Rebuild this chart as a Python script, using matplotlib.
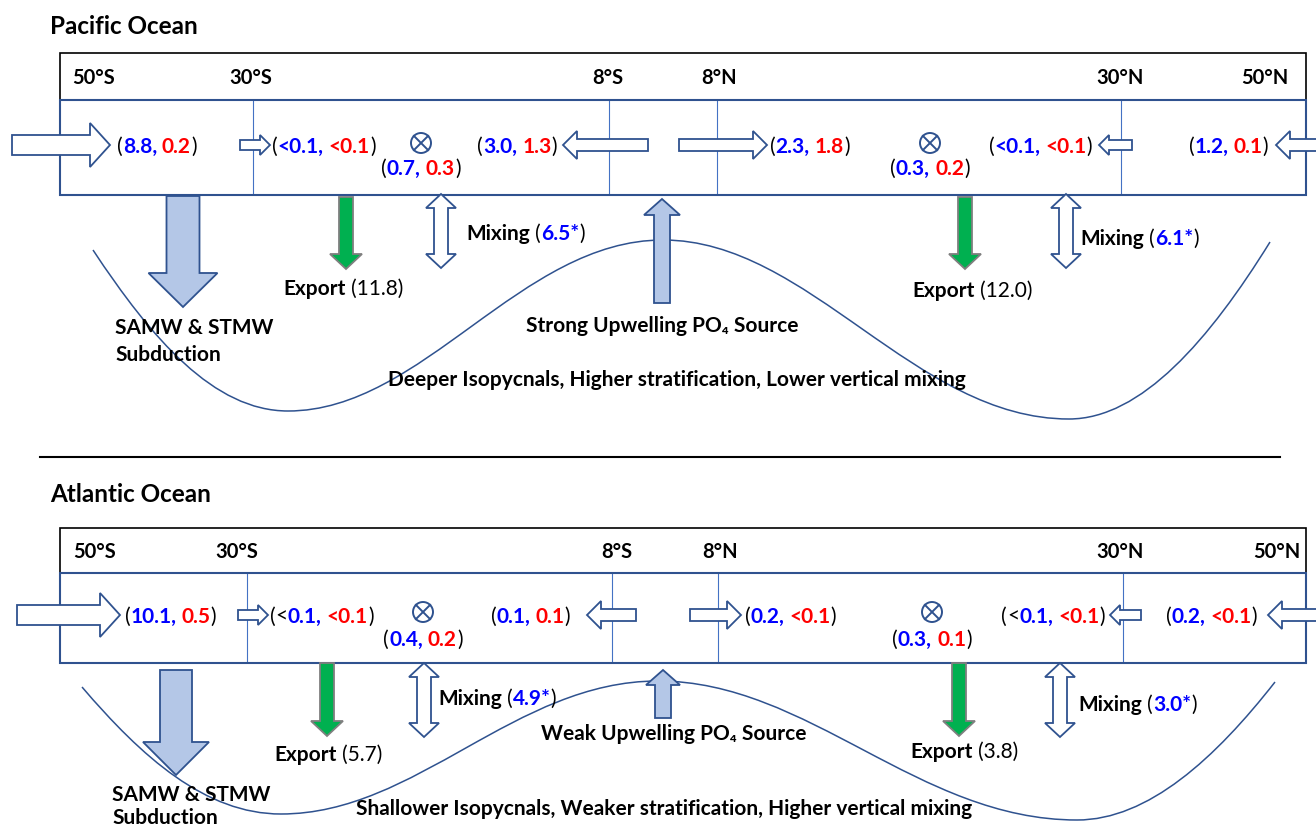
import matplotlib
matplotlib.use('Agg')
import matplotlib.pyplot as plt
from matplotlib.patches import Polygon, Rectangle, PathPatch, Circle
from matplotlib.path import Path
import numpy as np

plt.rcParams['font.family'] = ['Lato', 'DejaVu Sans']

W, H = 1316, 826
BLUE, RED, BLACK = '#0000FF', '#FF0000', '#000000'
EDGE, LINE = '#2F528F', '#4472C4'
LIGHT, GREEN, GREY = '#B4C7E7', '#00B050', '#7F7F7F'

# ---- data ----
LATS = ['50°S', '30°S', '8°S', '8°N', '30°N', '50°N']

# (PO4, DOP) meridional fluxes, west to east along the row
PAC_MERID = [('8.8', '0.2'), ('<0.1', '<0.1'), ('3.0', '1.3'),
             ('2.3', '1.8'), ('<0.1', '<0.1'), ('1.2', '0.1')]
PAC_VERT = [('0.7', '0.3'), ('0.3', '0.2')]
PAC_EXPORT = ['11.8', '12.0']
PAC_MIXING = ['6.5*', '6.1*']
PAC_UPWELL = 'Strong Upwelling PO₄ Source'
PAC_NOTE = 'Deeper Isopycnals, Higher stratification, Lower vertical mixing'

ATL_MERID = [('10.1', '0.5'), ('<0.1', '<0.1'), ('0.1', '0.1'),
             ('0.2', '<0.1'), ('<0.1', '<0.1'), ('0.2', '<0.1')]
ATL_VERT = [('0.4', '0.2'), ('0.3', '0.1')]
ATL_EXPORT = ['5.7', '3.8']
ATL_MIXING = ['4.9*', '3.0*']
ATL_UPWELL = 'Weak Upwelling PO₄ Source'
ATL_NOTE = 'Shallower Isopycnals, Weaker stratification, Higher vertical mixing'

# ---- layout (pixels) ----
ARROW_SIZES = {'big': (20, 44, 20), 'mid': (12, 28, 14), 'small': (10, 20, 10)}
FS_TITLE, FS_LAT, FS_FLUX, FS_BODY = 17.5, 14.5, 15, 15

PAC_LAYOUT = dict(
    title='Pacific Ocean', title_y=25, head=(53, 100), box=(100, 195),
    lat_x=[94, 251, 608, 719, 1120, 1265], bound_x=[253, 609, 717, 1121],
    row_y=145,
    harrows=[(12, 110, 'big'), (240, 270, 'small'), (648, 563, 'mid'),
             (679, 767, 'mid'), (1132, 1099, 'small'), (1345, 1276, 'mid')],
    flux_x=[117, 272, 557, 770, 1092, 1268],
    flux_ha=['left', 'left', 'right', 'left', 'right', 'right'],
    lt_black=False,
    otimes_x=[421, 930], otimes_y=143, vert_y=167,
    samw=(183, 196, 307, 33, 69, 34),
    export_x=[346, 965], export_y=(197, 269), export_lab=[(343, 287), (972, 289)],
    mix_x=[441, 1066], mix_y=(194, 268), mix_lab=[(466, 232), (1080, 237)],
    up=(662, 303, 199, 16, 36, 16), up_lab=(662, 324),
    samw_lab=(115, 326, 353), note=(388, 378),
    curve_x=[93, 288, 663, 1069, 1270], curve_y=[250, 411, 240, 419, 242],
)

ATL_LAYOUT = dict(
    title='Atlantic Ocean', title_y=493, head=(528, 573), box=(573, 663),
    lat_x=[95, 237, 617, 720, 1120, 1277], bound_x=[247, 612, 718, 1123],
    row_y=615,
    harrows=[(17, 120, 'big'), (238, 268, 'small'), (636, 587, 'mid'),
             (690, 741, 'mid'), (1141, 1110, 'small'), (1345, 1268, 'mid')],
    flux_x=[125, 270, 570, 745, 1105, 1257],
    flux_ha=['left', 'left', 'right', 'left', 'right', 'right'],
    lt_black=True,
    otimes_x=[423, 932], otimes_y=612, vert_y=638,
    samw=(176, 670, 775, 32, 66, 33),
    export_x=[327, 959], export_y=(663, 736), export_lab=[(328, 753), (964, 750)],
    mix_x=[424, 1060], mix_y=(663, 737), mix_lab=[(438, 697), (1078, 703)],
    up=(663, 718, 670, 16, 34, 15), up_lab=(674, 732),
    samw_lab=(112, 793, 816), note=(356, 807),
    curve_x=[82, 281, 658, 1077, 1275], curve_y=[687, 814, 681, 820, 682],
)

fig = plt.figure(figsize=(W / 100, H / 100), dpi=100)
ax = fig.add_axes([0, 0, 1, 1])
ax.set_xlim(0, W)
ax.set_ylim(H, 0)
ax.axis('off')
renderer = fig.canvas.get_renderer()


def advance(s, size, bold):
    # advance width of s in pixels, bars on both sides keep spaces and bearings
    w = []
    for probe in ('|' + s + '|', '||'):
        t = ax.text(0, 0, probe, fontsize=size, fontweight='bold' if bold else 'normal')
        w.append(t.get_window_extent(renderer).width)
        t.remove()
    return w[0] - w[1]


def rich(x, y, parts, ha='left', size=14):
    # parts: (string, colour, bold); y is the vertical centre of the caps
    base = y + 0.36 * size * 1.389
    items, total = [], 0
    for s, c, b in parts:
        lead = advance(s[:len(s) - len(s.lstrip(' '))], size, b) if s.startswith(' ') else 0
        adv = advance(s, size, b)
        items.append((s.strip(' '), c, b, lead, adv))
        total += adv
    cur = {'left': x, 'center': x - total / 2, 'right': x - total}[ha]
    for s, c, b, lead, adv in items:
        ax.text(cur + lead, base, s, color=c, fontsize=size,
                fontweight='bold' if b else 'normal', va='baseline', ha='left')
        cur += adv


def flux_parts(a, b, lt_black):
    parts = [('(', BLACK, False)]
    if a.startswith('<') and lt_black:
        parts += [('<', BLACK, False), (a[1:] + ',', BLUE, True)]
    else:
        parts += [(a + ',', BLUE, True)]
    parts += [(' ' + b, RED, True), (')', BLACK, False)]
    return parts


def arrow(x0, y0, x1, y1, body, head, hl, fc, ec, double=False, lw=1.3):
    p0, p1 = np.array([x0, y0], float), np.array([x1, y1], float)
    u = (p1 - p0) / np.hypot(*(p1 - p0))
    n = np.array([-u[1], u[0]])
    b, h = body / 2, head / 2
    b1 = p1 - u * hl
    if double:
        b0 = p0 + u * hl
        pts = [p0, b0 + n * h, b0 + n * b, b1 + n * b, b1 + n * h, p1,
               b1 - n * h, b1 - n * b, b0 - n * b, b0 - n * h]
    else:
        pts = [p0 + n * b, b1 + n * b, b1 + n * h, p1, b1 - n * h, b1 - n * b, p0 - n * b]
    ax.add_patch(Polygon(pts, closed=True, fc=fc, ec=ec, lw=lw, joinstyle='miter', zorder=3))


def otimes(x, y, r=10):
    ax.add_patch(Circle((x, y), r, fc='white', ec=EDGE, lw=1.4, zorder=3))
    d = r * 0.707
    ax.plot([x - d, x + d], [y - d, y + d], color=EDGE, lw=1.4, zorder=4)
    ax.plot([x - d, x + d], [y + d, y - d], color=EDGE, lw=1.4, zorder=4)


def isopycnal(xs, ys):
    verts, codes = [(xs[0], ys[0])], [Path.MOVETO]
    last = len(xs) - 2
    for i in range(len(xs) - 1):
        dx, dy = xs[i + 1] - xs[i], ys[i + 1] - ys[i]
        c1 = (xs[i] + 0.3 * dx, ys[i] + 0.55 * dy) if i == 0 else (xs[i] + 0.36 * dx, ys[i])
        c2 = (xs[i + 1] - 0.3 * dx, ys[i + 1] - 0.55 * dy) if i == last else (xs[i + 1] - 0.38 * dx, ys[i + 1])
        verts += [c1, c2, (xs[i + 1], ys[i + 1])]
        codes += [Path.CURVE4] * 3
    ax.add_patch(PathPatch(Path(verts, codes), fc='none', ec=EDGE, lw=1.1, zorder=1))


def panel(L, merid, vert, export, mixing, upwell, note):
    rich(50, L['title_y'], [(L['title'], BLACK, True)], size=FS_TITLE)
    # latitude header
    ht, hb = L['head']
    ax.add_patch(Rectangle((60, ht), 1246, hb - ht, fc='none', ec=BLACK, lw=1.2, zorder=2))
    for lab, x in zip(LATS, L['lat_x']):
        rich(x, (ht + hb) / 2, [(lab, BLACK, True)], ha='center', size=FS_LAT)
    # surface box
    bt, bb = L['box']
    ax.add_patch(Rectangle((60, bt), 1246, bb - bt, fc='none', ec=EDGE, lw=1.5, zorder=2))
    for x in L['bound_x']:
        ax.plot([x, x], [bt, bb - 2], color=LINE, lw=0.8, zorder=1)
    # meridional fluxes
    y = L['row_y']
    for x0, x1, sz in L['harrows']:
        arrow(x0, y, x1, y, *ARROW_SIZES[sz], fc='white', ec=EDGE)
    for (a, b), x, ha in zip(merid, L['flux_x'], L['flux_ha']):
        rich(x, y, flux_parts(a, b, L['lt_black']), ha=ha, size=FS_FLUX)
    for (a, b), x in zip(vert, L['otimes_x']):
        otimes(x, L['otimes_y'])
        rich(x, L['vert_y'], flux_parts(a, b, False), ha='center', size=FS_FLUX)
    # subduction
    sx, sy0, sy1, sb, sh, shl = L['samw']
    arrow(sx, sy0, sx, sy1, sb, sh, shl, fc=LIGHT, ec=EDGE)
    lx, ly1, ly2 = L['samw_lab']
    rich(lx, ly1, [('SAMW & STMW', BLACK, True)], size=FS_BODY)
    rich(lx, ly2, [('Subduction', BLACK, True)], size=FS_BODY)
    # export
    ey0, ey1 = L['export_y']
    for x, val, (tx, ty) in zip(L['export_x'], export, L['export_lab']):
        arrow(x, ey0, x, ey1, 14, 32, 15, fc=GREEN, ec=GREY)
        rich(tx, ty, [('Export', BLACK, True), (' (' + val + ')', BLACK, False)], ha='center', size=FS_BODY)
    # mixing
    my0, my1 = L['mix_y']
    for x, val, (tx, ty) in zip(L['mix_x'], mixing, L['mix_lab']):
        arrow(x, my0, x, my1, 14, 30, 14, fc='white', ec=EDGE, double=True)
        rich(tx, ty, [('Mixing', BLACK, True), (' (', BLACK, False), (val, BLUE, True),
                      (')', BLACK, False)], size=FS_BODY)
    # upwelling
    ux, uy0, uy1, ub, uh, uhl = L['up']
    arrow(ux, uy0, ux, uy1, ub, uh, uhl, fc=LIGHT, ec=EDGE)
    rich(*L['up_lab'], [(upwell, BLACK, True)], ha='center', size=FS_BODY)
    rich(*L['note'], [(note, BLACK, True)], size=FS_BODY)
    isopycnal(L['curve_x'], L['curve_y'])


panel(PAC_LAYOUT, PAC_MERID, PAC_VERT, PAC_EXPORT, PAC_MIXING, PAC_UPWELL, PAC_NOTE)
ax.plot([40, 1280], [457, 457], color=BLACK, lw=1.5)
panel(ATL_LAYOUT, ATL_MERID, ATL_VERT, ATL_EXPORT, ATL_MIXING, ATL_UPWELL, ATL_NOTE)

fig.savefig('out.png', dpi=100)
